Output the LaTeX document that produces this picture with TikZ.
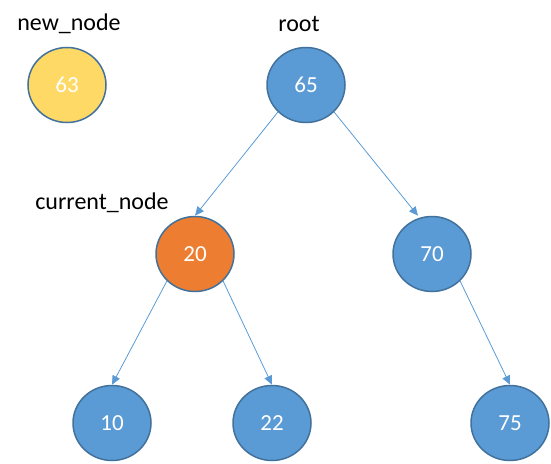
\documentclass[tikz,border=0pt]{standalone}
\usepackage{fontspec}
\setmainfont{Carlito}
\usetikzlibrary{arrows.meta,shapes.geometric}
\definecolor{nblue}{HTML}{5B9BD5}
\definecolor{nborder}{HTML}{41719C}
\definecolor{nyellow}{HTML}{FFD966}
\definecolor{norange}{HTML}{ED7D31}
\tikzset{
  tnode/.style={ellipse, draw=nborder, line width=1.5pt, fill=nblue, minimum width=78pt, minimum height=75pt, inner sep=0pt, text=white, font=\fontsize{23}{26}\selectfont},
  lbl/.style={font=\fontsize{24}{27}\selectfont, text=black, inner sep=0pt},
  edge/.style={draw=nblue, line width=0.8pt, -{Triangle[length=9pt,width=8pt]}}
}
\begin{document}
\begin{tikzpicture}[x=1pt,y=-1pt]
\useasboundingbox (0,0) rectangle (551,463);
\node[tnode, fill=nyellow] (nn) at (67,85) {63};
\node[tnode] (root) at (306,85) {65};
\node[tnode, fill=norange] (cur) at (195,254) {20};
\node[tnode] (n70) at (432,254) {70};
\node[tnode] (n10) at (112,423) {10};
\node[tnode] (n22) at (272,423) {22};
\node[tnode] (n75) at (510,423) {75};
\node[lbl] (lnn) at (69,24) {new\_node};
\node[lbl] (lroot) at (299,24) {root};
\node[lbl] (lcur) at (102,203) {current\_node};
\draw[edge] (root.south west) -- (cur.north);
\draw[edge] (root.south east) -- ([xshift=-14pt]n70.north);
\draw[edge] (cur.south west) -- (n10.north);
\draw[edge] (cur.south east) -- (n22.north);
\draw[edge] (n70.south east) -- (n75.north);
\end{tikzpicture}
\end{document}
